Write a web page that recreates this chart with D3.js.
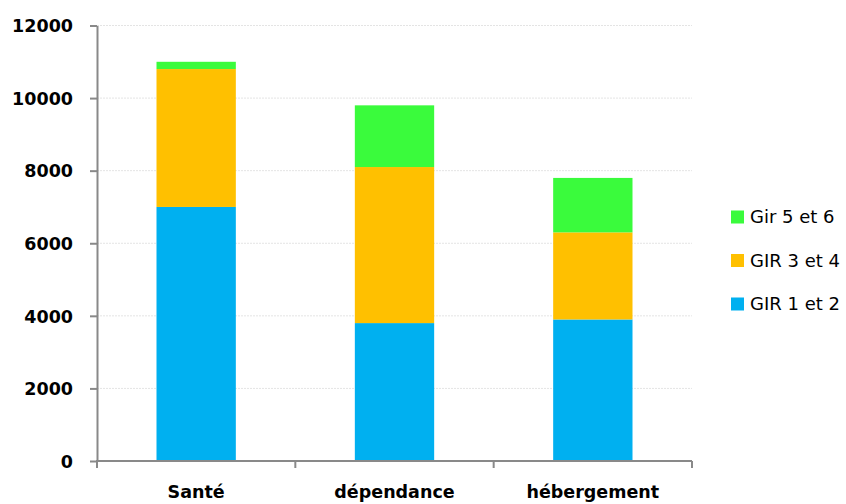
<!DOCTYPE html>
<html><head><meta charset="utf-8">
<script src="https://cdn.jsdelivr.net/npm/d3@7"></script>
<style>body{margin:0;background:#fff}svg{display:block}</style>
</head><body>
<svg id="c" width="846" height="504"></svg>
<script>
const categories = ["Santé", "dépendance", "hébergement"];
const gir12 = [7000, 3800, 3900];
const gir34 = [3800, 4300, 2400];
const gir56 = [200, 1700, 1500];
const seriesNames = ["GIR 1 et 2", "GIR 3 et 4", "Gir 5 et 6"];
const colors = ["#00B0F0", "#FFC000", "#3AFB3C"];
const yTicks = [0, 2000, 4000, 6000, 8000, 10000, 12000];

const svg = d3.select("#c");
const font = "'DejaVu Sans', sans-serif";
const x = d3.scaleBand().domain(categories).range([97, 692]).paddingInner(0.6).paddingOuter(0.3);
const y = d3.scaleLinear().domain([0, 12000]).range([461, 25.5]);

const rows = categories.map((c, i) => ({cat: c, "GIR 1 et 2": gir12[i], "GIR 3 et 4": gir34[i], "Gir 5 et 6": gir56[i]}));
const stacked = d3.stack().keys(seriesNames)(rows);

// gridlines
svg.append("g").selectAll("line").data(yTicks.slice(1)).join("line")
  .attr("x1", 97).attr("x2", 692).attr("y1", d => y(d)).attr("y2", d => y(d))
  .attr("stroke", "#e4e4e4").attr("stroke-width", 1).attr("stroke-dasharray", "2,1");

// bars
svg.append("g").selectAll("g").data(stacked).join("g")
  .attr("fill", (d, i) => colors[i])
  .selectAll("rect").data(d => d).join("rect")
  .attr("x", d => x(d.data.cat)).attr("width", x.bandwidth())
  .attr("y", d => y(d[1])).attr("height", d => y(d[0]) - y(d[1]));

// y axis
const ya = svg.append("g").attr("transform", "translate(97,0)")
  .call(d3.axisLeft(y).tickValues(yTicks).tickSize(7).tickSizeOuter(0).tickFormat(d3.format("d")));
ya.select(".domain").attr("stroke", "#898989").attr("stroke-width", 2);
ya.selectAll(".tick line").attr("stroke", "#898989").attr("stroke-width", 2);
ya.selectAll("text").attr("font-family", font).attr("font-weight", "bold").attr("font-size", 17.5)
  .attr("fill", "#000").attr("x", -24).attr("dy", "0.36em");

// x axis
const boundaries = [97, 97 + (692 - 97) / 3, 97 + 2 * (692 - 97) / 3, 692];
const xa = svg.append("g");
xa.append("line").attr("x1", 96).attr("x2", 692).attr("y1", y(0)).attr("y2", y(0))
  .attr("stroke", "#898989").attr("stroke-width", 2);
xa.selectAll("line.t").data(boundaries).join("line").attr("class", "t")
  .attr("x1", d => d).attr("x2", d => d).attr("y1", y(0)).attr("y2", y(0) + 7)
  .attr("stroke", "#898989").attr("stroke-width", 2);
xa.selectAll("text").data(categories).join("text")
  .attr("x", d => x(d) + x.bandwidth() / 2).attr("y", 498)
  .attr("text-anchor", "middle").attr("font-family", font).attr("font-weight", "bold")
  .attr("font-size", 17.5).attr("fill", "#000").text(d => d);

// legend
const legendItems = [2, 1, 0];
const lg = svg.append("g").selectAll("g").data(legendItems).join("g")
  .attr("transform", (d, i) => `translate(731,${217 + i * 43.5})`);
lg.append("rect").attr("x", 0).attr("y", -6.5).attr("width", 13).attr("height", 13).attr("fill", d => colors[d]);
lg.append("text").attr("x", 19).attr("y", 0).attr("dy", "0.36em").attr("font-family", font).attr("font-size", 18)
  .attr("fill", "#000").text(d => seriesNames[d]);
</script>
</body></html>
